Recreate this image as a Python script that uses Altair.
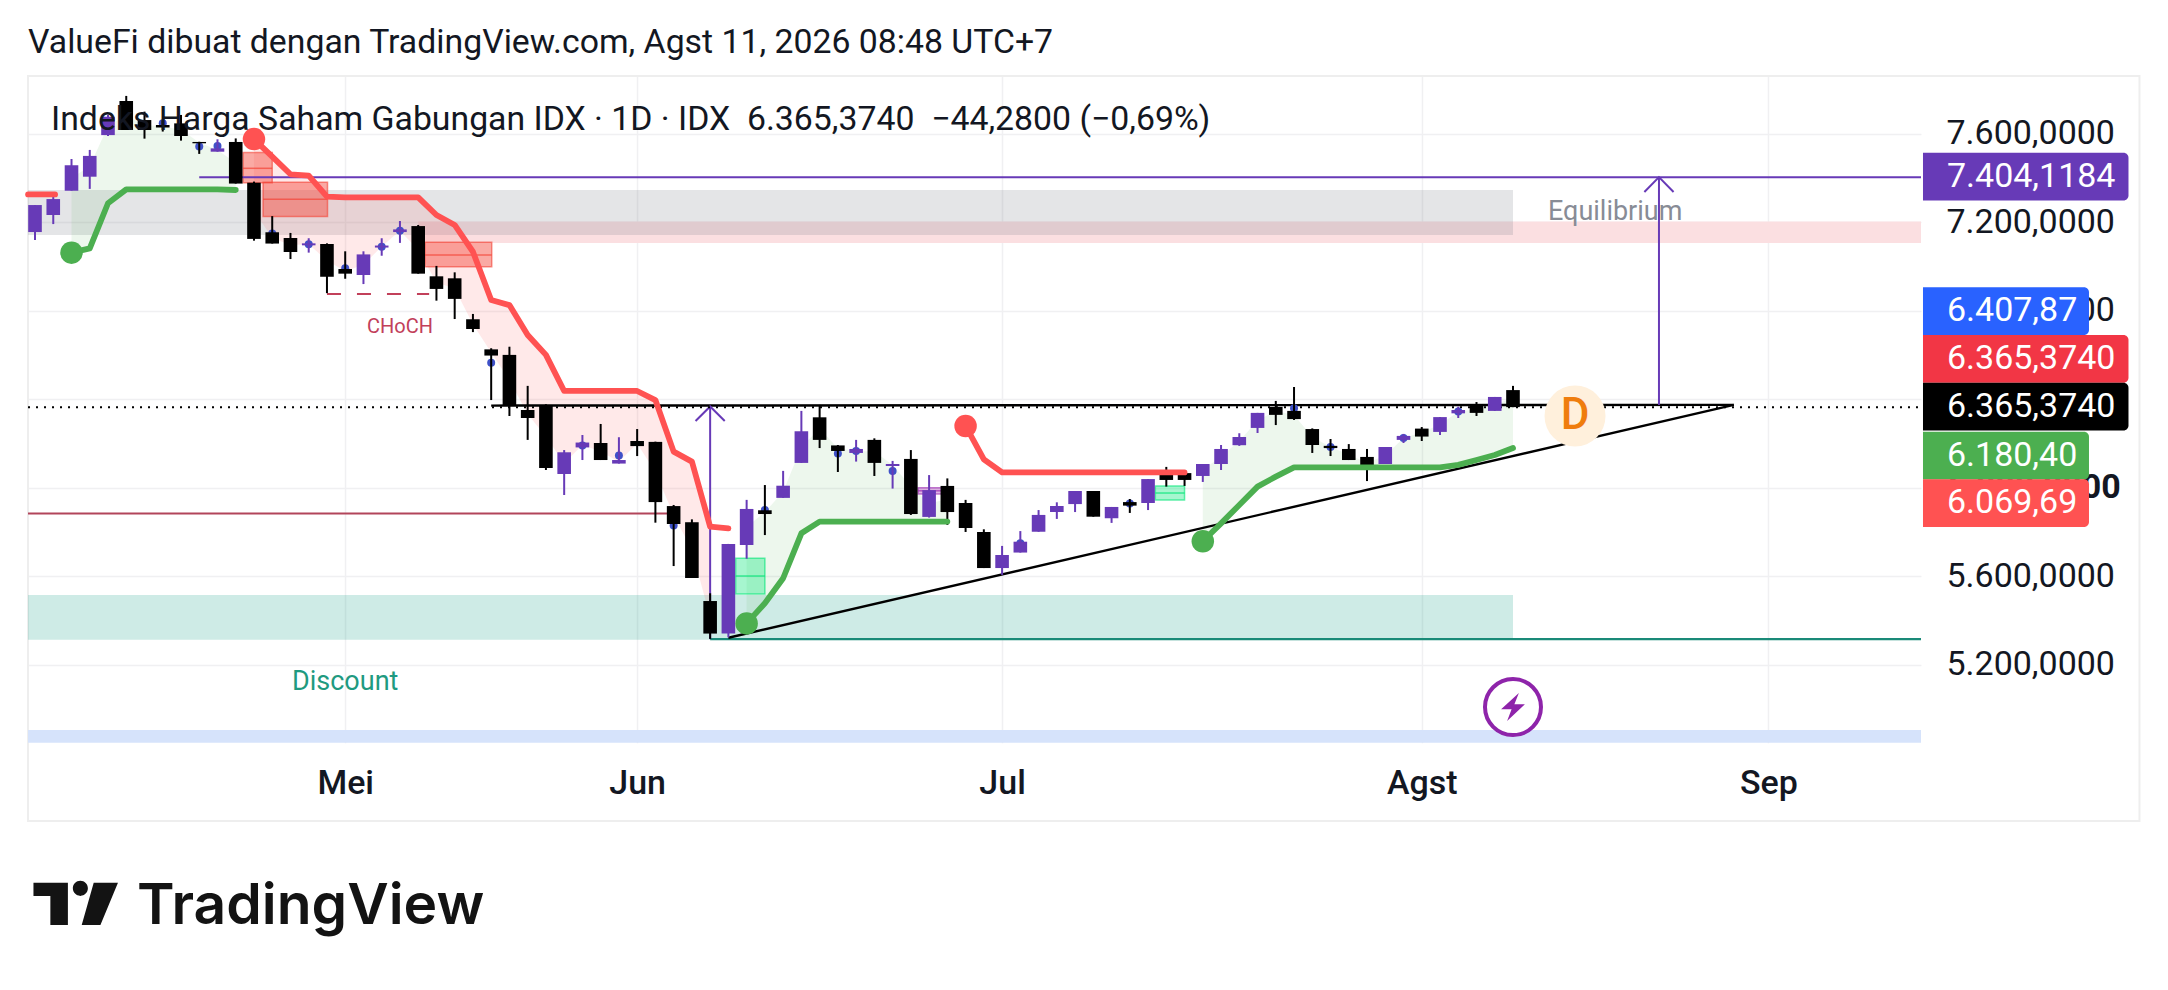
import altair as alt
import pandas as pd

# ---- candles (bar index = list position), prices
up = ("PPPPP" "BBBBB" "P" "BBBB" "P" "BB" "PPP" "BBBBBBBB" "PP" "B" "P" "BBBBB" "PP" "B" "PP"
      "BB" "P" "B" "P" "B" "P" "BBB" "PPPPP" "B" "P" "B" "P" "BB" "PPPP" "BBBBBB" "PP" "B" "PP" "B" "P" "B")
highs = [7278,7316,7486,7527,7685,7771,7700,7659,7685,7564,7575,7579,7384,7228,7152,7128,7105,7069,7069,7128,7206,7188,
         7003,6974,6786,6631,6638,6461,6378,6171,6239,6289,6229,6266,6209,5923,5858,5524,5747,5946,6013,6077,6348,6375,
         6194,6217,6224,6122,6171,6058,6043,5946,5813,5738,5805,5900,5935,5986,5986,5914,5950,6040,6095,6081,6108,6194,
         6247,6339,6393,6456,6269,6221,6198,6176,6185,6244,6275,6320,6367,6388,6411,6461]
body_top = [7278,7305,7458,7500,7677,7748,7662,7640,7647,7563,7534,7563,7379,7155,7129,7105,7102,6989,7055,7095,7168,7183,
            6956,6947,6762,6626,6601,6352,6372,6161,6205,6203,6126,6212,6208,5918,5845,5489,5747,5905,5899,6010,6256,6319,
            6192,6176,6217,6108,6131,5990,6009,5932,5801,5697,5757,5878,5918,5986,5986,5914,5936,6040,6060,6067,6108,6176,
            6230,6339,6366,6348,6266,6190,6176,6140,6185,6235,6268,6320,6352,6375,6411,6442]
body_bottom = [7156,7233,7343,7406,7594,7617,7617,7628,7590,7557,7519,7375,7125,7104,7066,7096,6954,6968,6962,7086,7156,6968,
               6899,6854,6718,6598,6372,6316,6090,6063,6183,6126,6110,6189,5936,5837,5593,5342,5342,5742,5882,5955,6113,6217,
               6167,6158,6113,6099,5882,5869,5891,5819,5638,5638,5708,5802,5891,5927,5870,5863,5920,5932,6036,6036,6054,6108,
               6193,6271,6330,6311,6194,6180,6126,6086,6108,6217,6232,6253,6337,6339,6348,6365]
lows = [7120,7192,7343,7351,7590,7617,7578,7610,7569,7509,7519,7375,7117,7104,7034,7063,6880,6945,6921,7049,7107,6968,
        6846,6763,6704,6397,6325,6217,6081,5968,6126,6126,6110,6144,5843,5647,5593,5318,5325,5680,5787,5955,6113,6180,
        6072,6119,6054,5997,5878,5866,5833,5801,5638,5607,5708,5802,5860,5891,5870,5842,5887,5900,6006,6009,6027,6081,
        6190,6248,6284,6307,6158,6144,6126,6031,6108,6203,6212,6239,6316,6325,6348,6365]

dot_idx = [7,9,10,13,15,17,19,20,25,30,32,35,40,44,45,47,54,60,69,71,75,78]
dot_val = [7647,7542,7545,7150,7101,6992,7090,7162,6566,6192,6146,5830,5900,6156,6167,6077,5750,5930,6360,6185,6226,6345]

# ---- trend indicator segments
red_seg = [0]*2 + [1]*27 + [2]*13
red_idx = [-0.38,1.1] + list(range(12,39)) + list(range(51,64))
red_val = [7326,7326,
           7576,7497,7417,7411,7316,7313,7313,7313,7313,7313,7233,7188,7067,6849,6826,6691,6601,
           6438,6438,6438,6438,6438,6397,6164,6119,5825,5817,
           6280,6129,6070,6070,6070,6070,6070,6070,6070,6070,6070,6070,6070]

green_seg = [0]*10 + [1]*12 + [2]*18
green_idx = list(range(2,12)) + list(range(39,51)) + list(range(64,82))
green_val = [7063,7082,7286,7349,7349,7349,7349,7349,7349,7346,
             5388,5479,5592,5795,5848,5848,5848,5848,5848,5848,5848,5848,
             5759,5840,5923,6006,6051,6093,6093,6093,6093,6093,6093,6093,6093,6093,6104,6126,6149,6180]

# ---- zones (left index, right index, low, high)
zone_names = ["premium","equilibrium","discount","strip"]
zone_x0 = [21.0,-0.3836,-0.3836,-0.3836]
zone_x1 = [103.36,81.0,81.0,103.36]
zone_lo = [7106,7143,5314,4849]
zone_hi = [7204,7346,5516,4906]
zone_col = ["#fbdfe1","#787b86","#089981","#d6e3fb"]
zone_op = [1.0,0.2,0.2,1.0]

# ---- order blocks
box_x0 = [11.4,12.5,21.37,38.4,61.4,48.4]
box_x1 = [13.0,16.03,25.03,40.0,63.0,49.7]
box_lo = [7379,7226,6999,5521,5945,5973]
box_hi = [7515,7381,7110,5682,6009,6001]
box_mid = [7444,7304,7052,5602,5977,5987]
box_col = ["#f44336","#f44336","#f44336","#00e676","#00e676","#9c27b0"]

ticks_y = [5200,5600,6000,6400,6800,7200,7600]
ticks_x = [17,33,53,76,95]

badge_txt = ["7.404,1184","6.407,87","6.365,3740","6.365,3740","6.180,40","6.069,69"]
badge_pos = [7406,6799,6583,6367,6146,5931]
badge_col = ["#673ab7","#2962ff","#f23645","#000000","#4caf50","#ff5252"]
badge_long = [1,0,1,1,0,0]

PURPLE = "#673ab7"
W, H = 1893, 666.7
XS = alt.Scale(domain=[-0.3836,103.36], nice=False, zero=False, padding=0)
YS = alt.Scale(domain=[4849,7861], nice=False, zero=False)
FONT = "Roboto"

xlab = "{" + ",".join(f"{t}:'{n}'" for t,n in zip(ticks_x,["Mei","Jun","Jul","Agst","Sep"])) + "}[datum.value]"
ylab = "replace(replace(replace(format(datum.value,',.4f'),',','#'),'.',','),'#','.')"
XA = alt.Axis(values=ticks_x, labelExpr=xlab, grid=True, gridColor="#f0f0f2", gridWidth=1.5, title=None,
        domain=False, ticks=False, labelFont=FONT, labelFontSize=34, labelFontWeight=500, labelColor="#131722", labelPadding=24,
        labelOverlap=False, labelFlush=False)
YA = alt.Axis(orient="right", values=ticks_y, labelExpr=ylab, grid=True, gridColor="#f0f0f2", gridWidth=1.5, title=None,
        domain=False, ticks=False, labelFont=FONT, labelFontSize=34, labelColor="#131722", labelPadding=25, labelAlign="left",
        labelFontWeight={"condition":{"test":"datum.value==6000","value":"bold"},"value":"normal"},
        labelOverlap=False, labelFlush=False)

def X(f="i"): return alt.X(f"{f}:Q", scale=XS, axis=XA)
def Y(f="p"): return alt.Y(f"{f}:Q", scale=YS, axis=YA)

# frame
frame = alt.Chart(pd.DataFrame({"a":[0]})).mark_rect(fillOpacity=0, stroke="#eeeeee", strokeWidth=2).encode(
    x=alt.value(0), x2=alt.value(2111.5), y=alt.value(0), y2=alt.value(745))

zdf = pd.DataFrame({"a":zone_x0,"b":zone_x1,"lo":zone_lo,"hi":zone_hi,"c":zone_col,"o":zone_op})
zones = alt.Chart(zdf).mark_rect().encode(x=X("a"),x2="b:Q",y=Y("lo"),y2="hi:Q",color=alt.Color("c:N",scale=None),opacity=alt.Opacity("o:Q",scale=None))

cdf = pd.DataFrame({"i":range(len(highs)),"h":highs,"t":body_top,"b":body_bottom,"l":lows,"u":list(up)})
cdf["c"] = cdf.u.map({"P":PURPLE,"B":"#000000"})
cdf["mid"] = (cdf.t+cdf.b)/2

gdf = pd.DataFrame({"i":green_idx,"p":green_val,"s":green_seg}).merge(cdf[["i","mid"]],on="i")
rdf = pd.DataFrame({"i":red_idx,"p":red_val,"s":red_seg}).merge(cdf[["i","mid"]],on="i",how="left")

green_fill = alt.Chart(gdf).mark_area(color="#4caf50",opacity=0.1).encode(x=X(),y=Y(),y2="mid:Q",detail="s:N")
red_fill = alt.Chart(rdf[(rdf.s>0)&(rdf.i<38)]).mark_area(color="#ff5252",opacity=0.13).encode(x=X(),y=Y(),y2="mid:Q",detail="s:N")

bdf = pd.DataFrame({"a":box_x0,"e":box_x1,"lo":box_lo,"hi":box_hi,"m":box_mid,"c":box_col})
bdf["fo"] = [0.45,0.45,0.45,0.35,0.35,0.35]
boxes = alt.Chart(bdf).mark_rect(strokeWidth=1.5,strokeOpacity=0.6).encode(x=X("a"),x2="e:Q",y=Y("lo"),y2="hi:Q",
    fill=alt.Fill("c:N",scale=None),stroke=alt.Stroke("c:N",scale=None),fillOpacity=alt.FillOpacity("fo:Q",scale=None))
boxmid = alt.Chart(bdf).mark_rule(strokeWidth=1.5,opacity=0.7).encode(x=X("a"),x2="e:Q",y=Y("m"),color=alt.Color("c:N",scale=None))

def hline(x0,x1,p,color,width,dash=None):
    kw = dict(color=color,strokeWidth=width)
    if dash: kw["strokeDash"]=dash
    return alt.Chart(pd.DataFrame({"a":[x0],"b":[x1],"p":[p]})).mark_rule(**kw).encode(x=X("a"),x2="b:Q",y=Y())

def poly(xs,ps,color,width):
    return alt.Chart(pd.DataFrame({"i":xs,"p":ps,"o":range(len(xs))})).mark_line(color=color,strokeWidth=width).encode(x=X(),y=Y(),order="o:Q")

annot = [
    hline(9,103.36,7404,PURPLE,2),
    hline(-0.3836,35,5884,"#b2455a",2),
    hline(37,103.36,5317,"#1a8a78",2.2),
    poly([25,93.1],[6372,6375],"#000000",2.4),
    poly([38,93.1],[5323,6375],"#000000",2.4),
    poly([37,37],[5317,6368],PURPLE,2),
    poly([36.2,37,37.8],[6302,6368,6302],PURPLE,2),
    poly([89,89],[6375,7404],PURPLE,2),
    poly([88.2,89,89.8],[7337,7404,7337],PURPLE,2),
    hline(16,21.6,6876,"#c2405a",2,[14,16]),
    hline(-0.3836,103.36,6365,"#000000",2,[2,6]),
]

bluedots = alt.Chart(pd.DataFrame({"i":dot_idx,"p":dot_val})).mark_circle(color="#3f51c8",opacity=1,size=64).encode(x=X(),y=Y())
wicks = alt.Chart(cdf).mark_rule(strokeWidth=2).encode(x=X(),y=Y("l"),y2="h:Q",color=alt.Color("c:N",scale=None))
bodies = alt.Chart(cdf).mark_bar(size=13.6).encode(x=X(),y=Y("b"),y2="t:Q",color=alt.Color("c:N",scale=None))

red_line = alt.Chart(rdf).mark_line(color="#ff5252",strokeWidth=5.8,strokeCap="round",strokeJoin="round").encode(x=X(),y=Y(),detail="s:N")
green_line = alt.Chart(gdf).mark_line(color="#4caf50",strokeWidth=5.8,strokeCap="round",strokeJoin="round").encode(x=X(),y=Y(),detail="s:N")
red_pts = alt.Chart(pd.DataFrame({"i":[12,51],"p":[7576,6280]})).mark_circle(color="#ff5252",opacity=1,size=506).encode(x=X(),y=Y())
green_pts = alt.Chart(pd.DataFrame({"i":[2,39,64],"p":[7063,5388,5759]})).mark_circle(color="#4caf50",opacity=1,size=506).encode(x=X(),y=Y())

def label(i,p,txt,color,size,weight=400):
    return alt.Chart(pd.DataFrame({"i":[i],"p":[p],"t":[txt]})).mark_text(font=FONT,fontSize=size,color=color,fontWeight=weight,align="center",baseline="middle").encode(x=X(),y=Y(),text="t:N")

texts = [
    label(20,6729,"CHoCH","#c2405a",20),
    label(17,5125,"Discount","#1f9a80",27),
    label(86.6,7247,"Equilibrium","#888c96",27),
]
d_circle = alt.Chart(pd.DataFrame({"i":[84.4],"p":[6325]})).mark_circle(color="#fff0dc",opacity=1,size=3721).encode(x=X(),y=Y())
d_text = label(84.4,6325,"D","#ef7d0e",44,500)
bolt_c = alt.Chart(pd.DataFrame({"i":[81],"p":[5010]})).mark_point(shape="circle",filled=True,fill="#ffffff",stroke="#8e24aa",strokeWidth=4,opacity=1,size=3136).encode(x=X(),y=Y())
bolt = alt.Chart(pd.DataFrame({"i":[81],"p":[5010]})).mark_point(
    shape="M0.42,-1 L-0.85,0.15 L-0.1,0.15 L-0.42,1 L0.85,-0.2 L0.1,-0.2 Z",filled=True,fill="#8e24aa",strokeWidth=0,opacity=1,size=784).encode(x=X(),y=Y())

def ptext(x,y,txt,color="#131722",size=33.8,weight=400,font=FONT,align="left"):
    return alt.Chart(pd.DataFrame({"t":[txt]})).mark_text(font=font,fontSize=size,color=color,fontWeight=weight,align=align,baseline="middle").encode(
        x=alt.value(x),y=alt.value(y),text="t:N")

title = ptext(0,-33,"ValueFi dibuat dengan TradingView.com, Agst 11, 2026 08:48 UTC+7")
legend = ptext(23,44,"Indeks Harga Saham Gabungan IDX · 1D · IDX\u00a0\u00a06.365,3740\u00a0\u00a0−44,2800 (−0,69%)")
brand = ptext(109,831,"TradingView",color="#131313",size=57,weight=600,font="Inter")
logo = alt.Chart(pd.DataFrame({"a":[0]})).mark_point(
    shape="M-1,-0.5 L-0.185,-0.5 L-0.185,0.5 L-0.6,0.5 L-0.6,-0.19 L-1,-0.19 Z M-0.068,-0.37 A0.178,0.178 0 1,1 0.288,-0.37 A0.178,0.178 0 1,1 -0.068,-0.37 Z M0.426,-0.5 L1,-0.5 L0.585,0.5 L0.142,0.5 Z",
    filled=True,fill="#131313",strokeWidth=0,opacity=1,size=7140).encode(x=alt.value(47.7),y=alt.value(828))

bd = pd.DataFrame({"t":badge_txt,"p":badge_pos,"c":badge_col,"lg":badge_long})
bd["lo"]=bd.p-107.8; bd["hi"]=bd.p+107.8
bd_long = bd[bd.lg==1]; bd_short = bd[bd.lg==0]
def badge_rects(df,right):
    return alt.Chart(df).mark_rect(cornerRadiusTopRight=5,cornerRadiusBottomRight=5).encode(
        x=alt.value(1895),x2=alt.value(right),y=Y("lo"),y2="hi:Q",color=alt.Color("c:N",scale=None))
badges = [badge_rects(bd_short,2061),badge_rects(bd_long,2100.5)]
badge_text = alt.Chart(bd).mark_text(font=FONT,fontSize=34,color="#ffffff",align="left",baseline="middle").encode(
    x=alt.value(1919),y=Y(),text="t:N")

layers = [frame,zones,green_fill,red_fill,boxes,boxmid]+annot+[bluedots,wicks,bodies,red_line,green_line,red_pts,green_pts]+texts+[d_circle,d_text,bolt_c,bolt,title,legend,brand,logo]+badges+[badge_text]

chart = alt.layer(*layers).properties(
    width=W,height=H,background="#ffffff",
    autosize=alt.AutoSizeParams(type="none"),
    padding={"left":20,"top":68,"right":239,"bottom":239}
).configure_view(stroke=None)

chart.save("out.html", embed_options={"renderer": "svg", "actions": False})
